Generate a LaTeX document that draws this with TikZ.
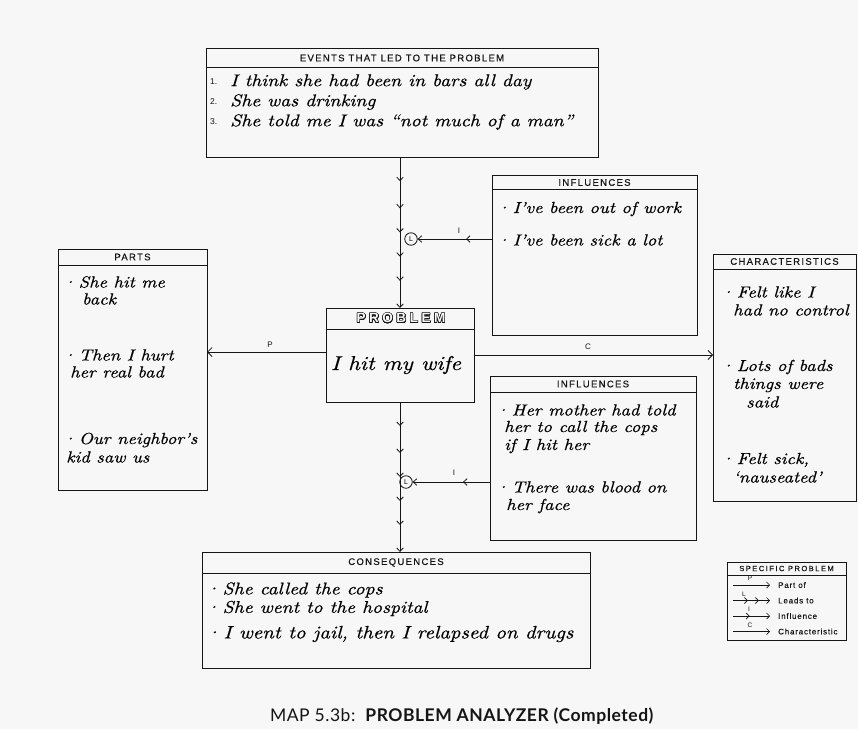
\documentclass[tikz,border=0pt]{standalone}
\usepackage{fontspec}
\usepackage{contour}
\usetikzlibrary{arrows.meta,decorations.markings}
\newfontfamily\hdr[LetterSpace=14,FakeBold=0.4]{Liberation Sans}
\newfontfamily\hdrw[LetterSpace=20,FakeBold=0.3]{Liberation Sans}
\newfontfamily\ptit[LetterSpace=26]{Liberation Sans}
\newfontfamily\lgf[LetterSpace=10,FakeBold=0.3]{Liberation Sans}
\newfontfamily\lbl{Liberation Sans}
\newfontfamily\capfont[LetterSpace=3]{Lato}
\newfontfamily\hand[FakeStretch=1.15,FakeBold=0.5]{lmroman10-italic.otf}
\newcommand{\bul}{·\hspace{2.5pt}}
\definecolor{bgc}{HTML}{F7F7F7}
\definecolor{ink}{HTML}{151515}
\contourlength{0.5pt}
\contournumber{24}
\tikzset{
  cb/.tip={Straight Barb[length=3.5pt,width=6.5pt,line width=0.8pt]},
  ob/.tip={Straight Barb[length=4.5pt,width=9pt,line width=0.8pt]},
  sb/.tip={Straight Barb[length=3pt,width=6pt,line width=0.7pt]},
}
\begin{document}
\begin{tikzpicture}[x=1pt,y=-1pt,
  box/.style={draw=ink,line width=0.9pt,anchor=north west,inner sep=0pt,outer sep=0pt},
  rule/.style={draw=ink,line width=0.8pt},
  hd/.style={font=\hdr\fontsize{9.5}{11}\selectfont,text=ink,inner sep=0pt},
  hw/.style={font=\hand\fontsize{17}{20}\selectfont,text=black,anchor=west,inner sep=0pt},
  hws/.style={hw,font=\hand\fontsize{16}{19}\selectfont},
  hwm/.style={hw,font=\hand\fontsize{18}{20}\selectfont},
  num/.style={font=\lbl\fontsize{8.5}{10}\selectfont,text=ink,anchor=west,inner sep=0pt},
  tag/.style={font=\lbl\fontsize{8}{9}\selectfont,text=ink,inner sep=0pt},
  stag/.style={font=\lbl\fontsize{6.5}{7}\selectfont,text=ink,inner sep=0pt},
  lgt/.style={font=\lgf\fontsize{8}{9}\selectfont,text=ink,anchor=west,inner sep=0pt},
  conn/.style={draw=ink,line width=0.8pt},
  lc/.style={circle,draw=ink,line width=0.8pt,minimum size=12.5pt,inner sep=0pt,font=\lbl\fontsize{7}{8}\selectfont},
  chain/.style={draw=ink,line width=1pt,-cb,decoration={markings,
     mark=at position 0.16 with {\arrow{cb}},
     mark=at position 0.34 with {\arrow{cb}},
     mark=at position 0.5 with {\arrow{cb}},
     mark=at position 0.66 with {\arrow{cb}},
     mark=at position 0.82 with {\arrow{cb}}}, postaction={decorate}},
  infl/.style={conn,-cb,decoration={markings,
     mark=at position 0.35 with {\arrow{cb}}}, postaction={decorate}},
  lead/.style={conn,line width=0.7pt,-sb,decoration={markings,
     mark=at position 0.4 with {\arrow{sb}},
     mark=at position 0.7 with {\arrow{sb}}}, postaction={decorate}},
  linf/.style={conn,line width=0.7pt,-sb,decoration={markings,
     mark=at position 0.45 with {\arrow{sb}}}, postaction={decorate}},
]
\fill[bgc] (0,0) rectangle (858,729);
\useasboundingbox (0,0) rectangle (858,729);

% ---- events
\node[box,minimum width=392pt,minimum height=109pt] (ev) at (206,48) {};
\draw[rule] ([yshift=-19pt]ev.north west) -- ([yshift=-19pt]ev.north east);
\node[hd] (evh) at (402,58) {EVENTS THAT LED TO THE PROBLEM};
\node[num] (n1) at (210,82) {1.};
\node[hw] (e1) at (230,82) {I think she had been in bars all day};
\node[num] (n2) at (210,102) {2.};
\node[hw] (e2) at (230,102) {She was drinking};
\node[num] (n3) at (210,122) {3.};
\node[hw] (e3) at (230,122) {She told me I was “not much of a man”};

% ---- influences (top)
\node[box,minimum width=205pt,minimum height=160pt] (it) at (492,175) {};
\draw[rule] ([yshift=-14pt]it.north west) -- ([yshift=-14pt]it.north east);
\node[hd] (ith) at (594.5,182.5) {INFLUENCES};
\node[hws] (i1) at (496,209) {\bul I’ve been out of work};
\node[hws] (i2) at (496,240) {\bul I’ve been sick a lot};

% ---- parts
\node[box,minimum width=149pt,minimum height=241pt] (pa) at (58,249) {};
\draw[rule] ([yshift=-16pt]pa.north west) -- ([yshift=-16pt]pa.north east);
\node[hd] (pah) at (132.5,257) {PARTS};
\node[hws] (p1) at (62,282) {\bul She hit me};
\node[hws] (p1b) at (82,299) {back};
\node[hws] (p2) at (62,355) {\bul Then I hurt};
\node[hws] (p2b) at (70,372) {her real bad};
\node[hws] (p3) at (62,440) {\bul Our neighbor’s};
\node[hws] (p3b) at (66,457) {kid saw us};

% ---- problem
\node[box,minimum width=148pt,minimum height=94pt] (pr) at (326,308) {};
\draw[rule] ([yshift=-21pt]pr.north west) -- ([yshift=-21pt]pr.north east);
\node[font=\ptit\bfseries\fontsize{13.5}{14}\selectfont,inner sep=0pt] (prh) at (401,318.5) {\contour{ink}{\textcolor{bgc}{PROBLEM}}};
\node[font=\hand\fontsize{20}{24}\selectfont,inner sep=0pt] (prt) at (396,365) {I hit my wife};

% ---- characteristics
\node[box,minimum width=143pt,minimum height=247pt] (ch) at (713,254) {};
\draw[rule] ([yshift=-15pt]ch.north west) -- ([yshift=-15pt]ch.north east);
\node[hd] (chh) at (784.5,261.5) {CHARACTERISTICS};
\node[hws] (c1) at (720,292) {\bul Felt like I};
\node[hws] (c1b) at (733,310) {had no control};
\node[hws] (c2) at (720,367) {\bul Lots of bads};
\node[hws] (c2b) at (733,385) {things were};
\node[hws] (c2c) at (746,402) {said};
\node[hws] (c3) at (720,460) {\bul Felt sick,};
\node[hws] (c3b) at (733,477) {‘nauseated’};

% ---- influences (bottom)
\node[box,minimum width=206pt,minimum height=164pt] (ib) at (490,376) {};
\draw[rule] ([yshift=-16pt]ib.north west) -- ([yshift=-16pt]ib.north east);
\node[hd] (ibh) at (593,384) {INFLUENCES};
\node[hws] (b1) at (495,410) {\bul Her mother had told};
\node[hws] (b1b) at (504,428) {her to call the cops};
\node[hws] (b1c) at (504,446) {if I hit her};
\node[hws] (b2) at (495,487) {\bul There was blood on};
\node[hws] (b2b) at (506,506) {her face};

% ---- consequences
\node[box,minimum width=388pt,minimum height=116pt] (co) at (202,552) {};
\draw[rule] ([yshift=-21pt]co.north west) -- ([yshift=-21pt]co.north east);
\node[hd] (coh) at (396,562.5) {CONSEQUENCES};
\node[hw] (q1) at (205,590) {\bul She called the cops};
\node[hw] (q2) at (205,608.5) {\bul She went to the hospital};
\node[hwm] (q3) at (205,634) {\bul I went to jail, then I relapsed on drugs};

% ---- L circles
\node[lc] (lt) at (411,239) {L};
\node[lc] (lb) at (406,482) {L};

% ---- connectors
\draw[chain] (pr.north |- ev.south) -- (pr.north);
\draw[chain] (pr.south) -- (pr.south |- co.north);
\draw[infl] (lt -| it.west) -- (lt.east);
\draw[infl] (lb -| ib.west) -- (lb.east);
\draw[conn,-ob] ([yshift=3pt]pr.west) -- ([yshift=3pt]pr.west -| pa.east);
\draw[conn,-ob] (pr.east) -- (pr.east -| ch.west);
\node[tag] (tp) at (270,345) {P};
\node[tag] (tc) at (588,347) {C};
\node[tag] (ti1) at (459,231) {I};
\node[tag] (ti2) at (454,473) {I};

% ---- legend
\node[box,minimum width=119pt,minimum height=78pt,line width=0.8pt] (lg) at (727,562) {};
\draw[rule] ([yshift=-13pt]lg.north west) -- ([yshift=-13pt]lg.north east);
\node[font=\hdrw\fontsize{7.5}{8}\selectfont,text=ink,inner sep=0pt] (lgh) at (786.5,568.5) {SPECIFIC PROBLEM};
\coordinate (a1) at (733,585); \coordinate (b1) at (770,585);
\coordinate (a2) at (733,600.5); \coordinate (b2) at (770,600.5);
\coordinate (a3) at (733,616); \coordinate (b3) at (770,616);
\coordinate (a4) at (733,631.5); \coordinate (b4) at (770,631.5);
\draw[conn,line width=0.7pt,-sb] (a1) -- (b1);
\draw[lead] (a2) -- (b2);
\draw[linf] (a3) -- (b3);
\draw[conn,line width=0.7pt,-sb] (a4) -- (b4);
\node[stag] (lp) at (750,578.5) {P};
\node[stag] (ll) at (744,594) {L};
\node[stag] (li) at (749,609.5) {I};
\node[stag] (lcc) at (750,625) {C};
\node[lgt] (t1) at (778,585) {Part of};
\node[lgt] (t2) at (778,600.5) {Leads to};
\node[lgt] (t3) at (778,616) {Influence};
\node[lgt] (t4) at (778,631.5) {Characteristic};

% ---- caption
\node[font=\capfont\fontsize{17.5}{20}\selectfont,text=ink,inner sep=0pt] (cap) at (462,716) {MAP 5.3b:\ \ \textbf{PROBLEM ANALYZER (Completed)}};
\end{tikzpicture}
\end{document}
